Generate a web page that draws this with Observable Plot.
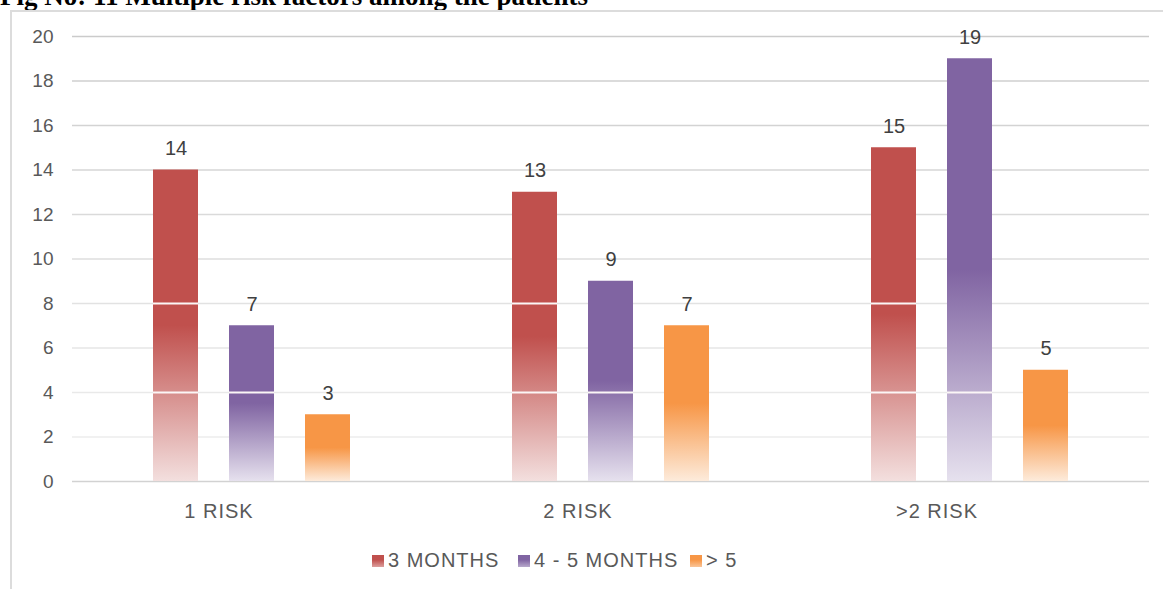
<!DOCTYPE html>
<html>
<head>
<meta charset="utf-8">
<script src="https://cdn.jsdelivr.net/npm/d3@7"></script>
<script src="https://cdn.jsdelivr.net/npm/@observablehq/plot@0.6"></script>
<style>
  html, body { margin: 0; padding: 0; background: #fff; overflow: hidden; }
  body { position: relative; width: 1163px; height: 589px; font-family: "Liberation Sans", Arial, sans-serif; }
  #title {
    position: absolute; left: 0; top: -17px; line-height: 1;
    font-family: "Liberation Serif", "Times New Roman", serif; font-weight: bold; font-size: 27px;
    color: #000; white-space: nowrap;
  }
  #frame {
    position: absolute; left: 10px; top: 10px; width: 1200px; height: 700px;
    border: 2px solid #dcdcdc; box-sizing: border-box; background: #fff;
  }
  #chart { position: absolute; left: 0; top: 0; }
  .wide text { letter-spacing: 1px; }
  #legend { position: absolute; top: 549px; left: 0; height: 22px; font-size: 20px; color: #595959; letter-spacing: 1px; }
  .item { position: absolute; top: 0; display: flex; align-items: center; white-space: nowrap; }
  .swatch { width: 12px; height: 12px; margin-right: 4px; }
</style>
</head>
<body>
<div id="title">Fig No: 11 Multiple risk factors among the patients</div>
<div id="frame"></div>
<div id="chart"></div>
<div id="legend"></div>
<script>
// Number of patients by count of risk factors and follow-up period
const risks = ["1 RISK", "2 RISK", ">2 RISK"];
const periods = ["3 MONTHS", "4 - 5 MONTHS", "> 5"];
const months3 = [14, 13, 15];
const months4to5 = [7, 9, 19];
const over5 = [3, 7, 5];
const yTicks = [0, 2, 4, 6, 8, 10, 12, 14, 16, 18, 20];

// Series colours: solid top, pale bottom of each gradient bar
const solid = ["#C0504D", "#8064A2", "#F79646"];
const pale = ["#F3DFDE", "#E6E1EE", "#FDEBDB"];

// Pale seam lines that cross the gradient bars
const seamLevels = { "3 MONTHS": [4, 8], "4 - 5 MONTHS": [4] };

const series = [months3, months4to5, over5];
const rows = risks.flatMap((risk, i) =>
  periods.map((period, j) => ({ risk, period, value: series[j][i] }))
);
const seams = rows.flatMap(d =>
  (seamLevels[d.period] || []).filter(v => v < d.value).map(at => ({ ...d, at }))
);

const gradId = i => `bar-grad-${i}`;
const gridColor = t => t === 0 ? "#d2d2d2" : d3.interpolateRgb("#f1f1f1", "#cbcbcb")(t / 20);

const chart = Plot.plot({
  width: 1163,
  height: 530,
  marginLeft: 71,
  marginRight: 13,
  marginTop: 36,
  marginBottom: 49,
  style: { fontFamily: "Liberation Sans, Arial, sans-serif", background: "transparent" },
  fx: { domain: risks, padding: 0 },
  x: { domain: periods, paddingInner: 0.4026, paddingOuter: 1.037, axis: null },
  y: { domain: [0, 20] },
  color: { domain: periods, range: periods.map((_, i) => `url(#${gradId(i)})`) },
  marks: [
    ...yTicks.map(t => Plot.ruleY([t], { stroke: gridColor(t), strokeWidth: 1.6 })),
    Plot.axisY(yTicks, { tickSize: 0, tickPadding: 19, fontSize: 19, fill: "#595959" }),
    Plot.axisFx({ anchor: "bottom", tickSize: 0, tickPadding: 22, dx: -33, fontSize: 20, fill: "#595959", label: null, className: "wide" }),
    Plot.barY(rows, { fx: "risk", x: "period", y: "value", fill: "period" }),
    Plot.tickY(seams, { fx: "risk", x: "period", y: "at", stroke: "#fbf6f6", strokeWidth: 2 }),
    Plot.text(rows, { fx: "risk", x: "period", y: "value", text: d => String(d.value), dy: -15, lineAnchor: "bottom", fontSize: 20, fill: "#404040" })
  ]
});

// Vertical gradients: solid for the top half of each bar, fading to pale at the base
const defs = d3.select(chart).insert("defs", ":first-child");
periods.forEach((p, i) => {
  const g = defs.append("linearGradient").attr("id", gradId(i))
    .attr("x1", 0).attr("y1", 0).attr("x2", 0).attr("y2", 1);
  g.append("stop").attr("offset", "0%").attr("stop-color", solid[i]);
  g.append("stop").attr("offset", "50%").attr("stop-color", solid[i]);
  g.append("stop").attr("offset", "100%").attr("stop-color", pale[i]);
});

document.getElementById("chart").appendChild(chart);

// Legend below the chart
const legendLeft = [372, 518, 690];
const legend = d3.select("#legend");
periods.forEach((p, i) => {
  const item = legend.append("div").attr("class", "item").style("left", legendLeft[i] + "px");
  item.append("div").attr("class", "swatch")
    .style("background", `linear-gradient(to bottom, ${solid[i]} 0%, ${solid[i]} 40%, ${d3.interpolateRgb(solid[i], pale[i])(0.55)} 100%)`);
  item.append("span").text(p);
});
</script>
</body>
</html>
